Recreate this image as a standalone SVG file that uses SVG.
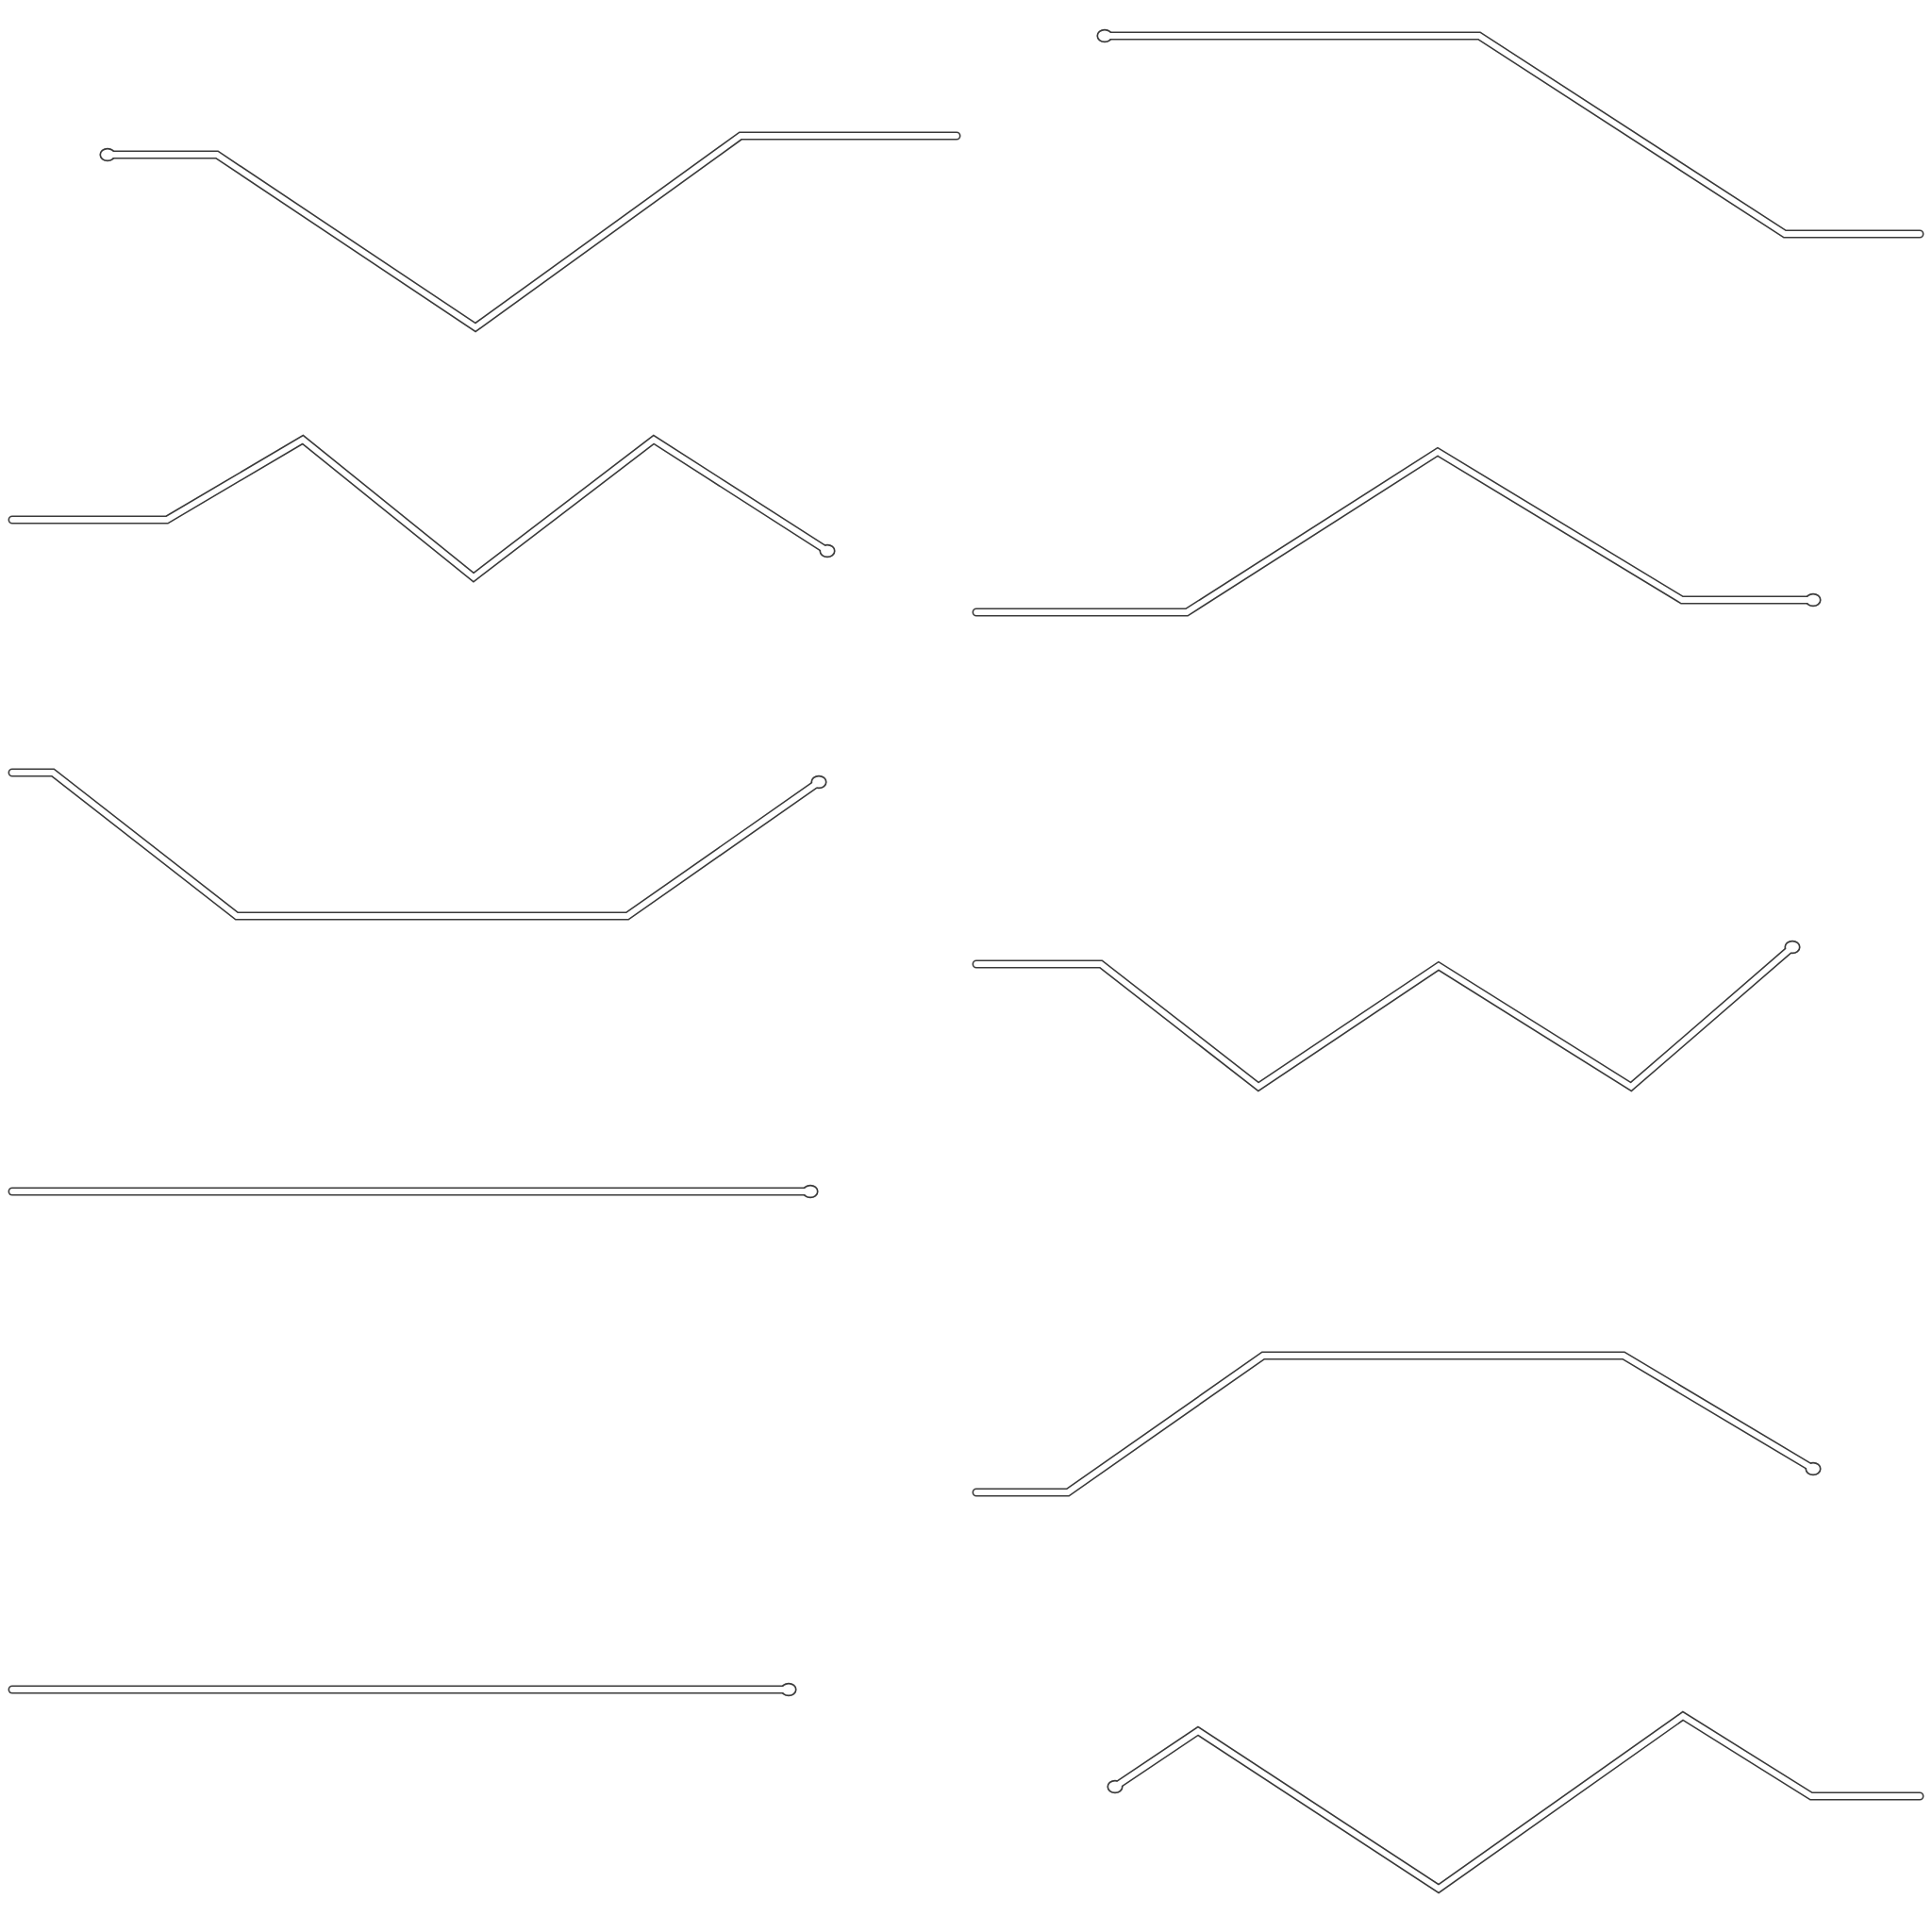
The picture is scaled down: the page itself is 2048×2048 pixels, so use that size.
<svg xmlns="http://www.w3.org/2000/svg" xmlns:xlink="http://www.w3.org/1999/xlink" width="2048" height="2048" viewBox="0 0 2048 2048">
<style>
.o{fill:none;stroke:#3a3a3a;stroke-width:9;stroke-linecap:round;stroke-linejoin:miter;stroke-miterlimit:10}
.i{fill:none;stroke:#ffffff;stroke-width:5.8;stroke-linecap:round;stroke-linejoin:miter;stroke-miterlimit:10}
.eo{fill:#3a3a3a;stroke:none}
.ei{fill:#ffffff;stroke:none}
</style>
<defs>
<path id="p1" d="M114,164 L230,164 L504,347 L785,144 L1014,144"/>
<path id="p2" d="M1171,38 L1568,38 L1892,248 L2035,248"/>
<path id="p3" d="M13,551 L177,551 L321,466 L502,612 L693,466 L877,584"/>
<path id="p4" d="M1035,649 L1258,649 L1524,479 L1783,636 L1922,636"/>
<path id="p5" d="M13,819 L56,819 L251,971 L665,971 L868,829"/>
<path id="p6" d="M1035,1022 L1167,1022 L1334,1152 L1525,1024 L1729,1152 L1900,1004"/>
<path id="p7" d="M13,1263 L859,1263"/>
<path id="p8" d="M1035,1582 L1132,1582 L1339,1437 L1721,1437 L1922,1557"/>
<path id="p9" d="M13,1791 L836,1791"/>
<path id="p10" d="M1182,1894 L1270,1835 L1525,2002 L1784,1819 L1920,1904 L2035,1904"/>
</defs>
<g id="connectors">
<g id="c1"><use xlink:href="#p1" class="o"/><ellipse class="eo" cx="114" cy="164" rx="8.6" ry="7.3"/><use xlink:href="#p1" class="i"/><ellipse class="ei" cx="114" cy="164" rx="6.9" ry="5.6"/></g>
<g id="c2"><use xlink:href="#p2" class="o"/><ellipse class="eo" cx="1171" cy="38" rx="8.6" ry="7.3"/><use xlink:href="#p2" class="i"/><ellipse class="ei" cx="1171" cy="38" rx="6.9" ry="5.6"/></g>
<g id="c3"><use xlink:href="#p3" class="o"/><ellipse class="eo" cx="877" cy="584" rx="8.6" ry="7.3"/><use xlink:href="#p3" class="i"/><ellipse class="ei" cx="877" cy="584" rx="6.9" ry="5.6"/></g>
<g id="c4"><use xlink:href="#p4" class="o"/><ellipse class="eo" cx="1922" cy="636" rx="8.6" ry="7.3"/><use xlink:href="#p4" class="i"/><ellipse class="ei" cx="1922" cy="636" rx="6.9" ry="5.6"/></g>
<g id="c5"><use xlink:href="#p5" class="o"/><ellipse class="eo" cx="868" cy="829" rx="8.6" ry="7.3"/><use xlink:href="#p5" class="i"/><ellipse class="ei" cx="868" cy="829" rx="6.9" ry="5.6"/></g>
<g id="c6"><use xlink:href="#p6" class="o"/><ellipse class="eo" cx="1900" cy="1004" rx="8.6" ry="7.3"/><use xlink:href="#p6" class="i"/><ellipse class="ei" cx="1900" cy="1004" rx="6.9" ry="5.6"/></g>
<g id="c7"><use xlink:href="#p7" class="o"/><ellipse class="eo" cx="859" cy="1263" rx="8.6" ry="7.3"/><use xlink:href="#p7" class="i"/><ellipse class="ei" cx="859" cy="1263" rx="6.9" ry="5.6"/></g>
<g id="c8"><use xlink:href="#p8" class="o"/><ellipse class="eo" cx="1922" cy="1557" rx="8.6" ry="7.3"/><use xlink:href="#p8" class="i"/><ellipse class="ei" cx="1922" cy="1557" rx="6.9" ry="5.6"/></g>
<g id="c9"><use xlink:href="#p9" class="o"/><ellipse class="eo" cx="836" cy="1791" rx="8.6" ry="7.3"/><use xlink:href="#p9" class="i"/><ellipse class="ei" cx="836" cy="1791" rx="6.9" ry="5.6"/></g>
<g id="c10"><use xlink:href="#p10" class="o"/><ellipse class="eo" cx="1182" cy="1894" rx="8.6" ry="7.3"/><use xlink:href="#p10" class="i"/><ellipse class="ei" cx="1182" cy="1894" rx="6.9" ry="5.6"/></g>
</g>
</svg>
